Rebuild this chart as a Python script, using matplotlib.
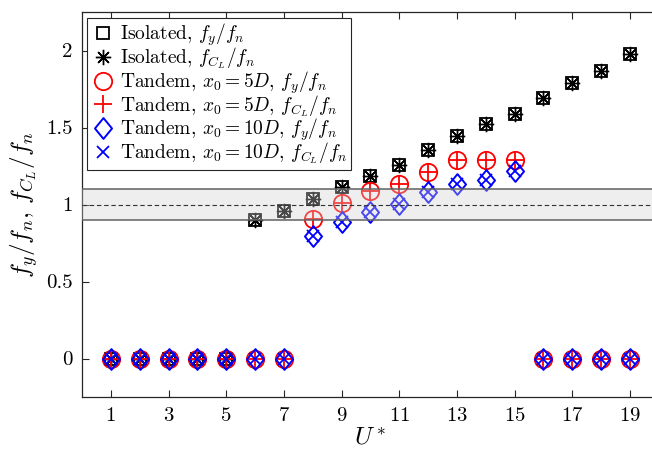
import numpy as np
import matplotlib
matplotlib.use("Agg")
import matplotlib.pyplot as plt
from matplotlib.path import Path

plt.rcParams["font.family"] = "serif"
plt.rcParams["font.serif"] = ["cmr10"]
plt.rcParams["mathtext.fontset"] = "cm"
plt.rcParams["axes.formatter.use_mathtext"] = True

# Reduced velocity
u_star = np.arange(1, 20)

# Isolated cylinder (displacement and lift frequency coincide)
iso_fy = [0, 0, 0, 0, 0, 0.90, 0.955, 1.035, 1.115, 1.185, 1.255, 1.355,
          1.445, 1.52, 1.59, 1.69, 1.79, 1.865, 1.975]
iso_fcl = iso_fy

# Tandem, x0 = 5D
t5_u = np.arange(1, 20)
t5_fy = [0, 0, 0, 0, 0, 0, 0, 0.905, 1.01, 1.09, 1.13, 1.21,
         1.29, 1.29, 1.29, 0, 0, 0, 0]
t5_fcl = t5_fy

# Tandem, x0 = 10D
t10_u = np.arange(1, 20)
t10_fy = [0, 0, 0, 0, 0, 0, 0, 0.795, 0.885, 0.95, 1.005, 1.08,
          1.13, 1.16, 1.215, 0, 0, 0, 0]
t10_fcl = t10_fy

xticks = np.arange(1, 20, 2)
yticks = [0, 0.5, 1, 1.5, 2]

# Lock-in band around f/f_n = 1
band_lo, band_mid, band_hi = 0.9, 1.0, 1.1

W, H = 652, 455
fig = plt.figure(figsize=(W / 100, H / 100), dpi=100)
# x-range spans 0..20; the right edge falls just outside the canvas
ax = fig.add_axes([82 / W, (H - 397) / H, 576.7 / W, 385 / H])

# Diamond marker (square rhombus, slightly taller than wide)
diamond = Path([(0, 1), (0.82, 0), (0, -1), (-0.82, 0), (0, 1)],
               [Path.MOVETO, Path.LINETO, Path.LINETO, Path.LINETO, Path.CLOSEPOLY])

ax.plot(u_star, iso_fy, ls="none", marker="s", ms=9.3, mfc="none", mec="k",
        mew=1.3, label=r"Isolated, $f_y/f_n$", zorder=3)
ax.plot(u_star, iso_fcl, ls="none", marker=(8, 2, 0), ms=11, mfc="none", mec="k",
        mew=1.0, label=r"Isolated, $f_{C_L}/f_n$", zorder=3)
ax.plot(t5_u, t5_fy, ls="none", marker="o", ms=12.5, mfc="none", mec="r",
        mew=1.3, label=r"Tandem, $x_0=5D$, $f_y/f_n$", zorder=3)
ax.plot(t5_u, t5_fcl, ls="none", marker="+", ms=12.5, mfc="none", mec="r",
        mew=1.3, label=r"Tandem, $x_0=5D$, $f_{C_L}/f_n$", zorder=3)
ax.plot(t10_u, t10_fy, ls="none", marker=diamond, ms=15, mfc="none", mec="b",
        mew=1.4, label=r"Tandem, $x_0=10D$, $f_y/f_n$", zorder=3)
ax.plot(t10_u, t10_fcl, ls="none", marker="x", ms=8, mfc="none", mec="b",
        mew=1.3, label=r"Tandem, $x_0=10D$, $f_{C_L}/f_n$", zorder=3)

# Translucent band drawn over the markers
ax.axhspan(band_lo, band_hi, facecolor=(0.82, 0.82, 0.82), alpha=0.35,
           edgecolor="none", zorder=4)
ax.axhline(band_lo, color=(0.38, 0.38, 0.38), lw=1.1, zorder=4)
ax.axhline(band_hi, color=(0.38, 0.38, 0.38), lw=1.1, zorder=4)
ax.axhline(band_mid, color=(0.2, 0.2, 0.2), lw=0.8, ls=(0, (4, 2.5)), zorder=4)

ax.set_xlim(0, 20)
ax.set_ylim(-0.25, 2.25)
ax.set_xticks(xticks)
ax.set_yticks(yticks)
ax.set_yticklabels(["0", "0.5", "1", "1.5", "2"])
ax.tick_params(direction="in", top=True, right=True, length=5, width=0.8,
               color=(0.15, 0.15, 0.15), labelsize=15, pad=7)
for s in ax.spines.values():
    s.set_color((0.15, 0.15, 0.15))
    s.set_linewidth(0.9)

ax.set_xlabel(r"$U^*$", fontsize=18, labelpad=2)
ax.set_ylabel(r"$f_y/f_n,\, f_{C_L}/f_n$", fontsize=18, labelpad=4)

leg = ax.legend(loc="upper left", bbox_to_anchor=(0.009, 0.985), fontsize=14,
                frameon=True, fancybox=False, framealpha=1, edgecolor=(0.15, 0.15, 0.15),
                handlelength=1.24, handletextpad=0.25, labelspacing=-0.12,
                borderpad=0.2, borderaxespad=0)
leg.get_frame().set_linewidth(0.8)
leg.set_zorder(6)

fig.savefig("out.png", dpi=100)
